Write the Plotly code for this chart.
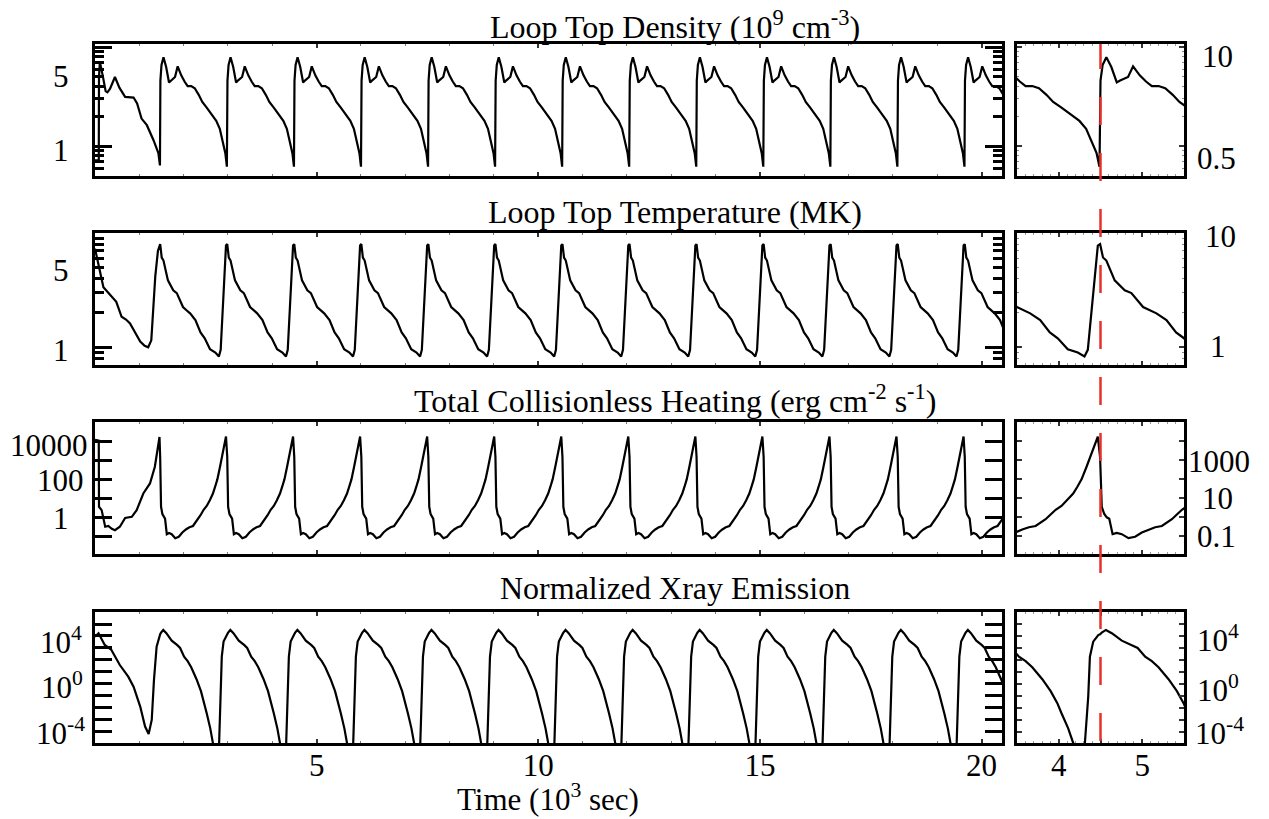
import plotly.graph_objects as go

# ---------------- data (time in 10^3 s) ----------------
# times of the density jumps (start of each heating cycle)
cycle_starts = [1.47, 2.983, 4.495, 6.008, 7.52, 9.033, 10.545, 12.058,
                13.57, 15.083, 16.595, 18.108, 19.62]

# one cycle, offsets after the jump (10^3 s) and values
dens_phase = [0.005, 0.03, 0.075, 0.135, 0.20, 0.24, 0.28, 0.335, 0.395, 0.475, 0.55,
              0.62, 0.70, 0.78, 0.87, 0.95, 1.05, 1.165, 1.265, 1.345, 1.425, 1.47, 1.505]
dens_cycle = [4.6, 6.6, 7.9, 6.3, 4.4, 4.6, 4.8, 5.0, 6.4, 5.2, 4.5,
              4.05, 4.05, 3.85, 3.3, 2.8, 2.45, 2.06, 1.8, 1.5, 1.06, 0.85, 0.62]
dens_init_t = [0.0, 0.085, 0.09, 0.11, 0.18, 0.24, 0.28, 0.34, 0.45, 0.55, 0.68,
               0.87, 0.95, 1.05, 1.17, 1.32, 1.43, 1.465]
dens_init = [0.72, 0.72, 5.0, 7.1, 5.0, 3.6, 3.5, 3.8, 5.0, 3.9, 3.15,
             3.1, 2.7, 1.9, 1.63, 1.15, 0.85, 0.64]

temp_phase = [0.0, 0.035, 0.075, 0.175, 0.295, 0.375, 0.515, 0.60, 0.675, 0.795,
              0.91, 1.005, 1.125, 1.245, 1.325, 1.365, 1.425, 1.485]
temp_cycle = [8.0, 6.1, 5.74, 3.85, 3.15, 2.98, 2.25, 2.1, 1.98, 1.73,
              1.35, 1.2, 0.96, 0.90, 0.83, 0.95, 2.95, 7.77]
temp_init_t = [0.0, 0.08, 0.19, 0.30, 0.38, 0.48, 0.60, 0.70, 0.79, 0.90, 1.02,
               1.12, 1.20, 1.27, 1.31, 1.36, 1.42, 1.46]
temp_init = [7.3, 5.4, 3.36, 3.0, 2.75, 2.5, 1.85, 1.75, 1.62, 1.35, 1.12,
             1.03, 1.0, 1.15, 2.0, 4.2, 7.0, 7.9]

heat_phase = [0.0, 0.02, 0.05, 0.08, 0.11, 0.15, 0.20, 0.26, 0.34, 0.42, 0.50, 0.58,
              0.66, 0.74, 0.79, 0.86, 0.91, 0.98, 1.05, 1.12, 1.19, 1.24, 1.29,
              1.35, 1.40, 1.45, 1.485]
heat_cycle = [1500, 3.6, 1.5, 1.0, 0.85, 0.13, 0.15, 0.13, 0.08, 0.095, 0.16, 0.23,
              0.30, 0.35, 0.5, 0.8, 1.3, 2.5, 4.0, 8.0, 18, 41, 100,
              460, 1800, 9000, 18000]
heat_init_t = [0.0, 0.085, 0.09, 0.15, 0.23, 0.30, 0.38, 0.45, 0.56, 0.68, 0.83,
               0.94, 1.09, 1.24, 1.35, 1.43, 1.455]
heat_init = [12000, 11000, 3.6, 2.4, 0.32, 0.35, 0.25, 0.21, 0.32, 0.92, 1.07,
             2.4, 18, 61, 460, 5200, 17000]

xray_phase = [0.0, 0.02, 0.07, 0.14, 0.26, 0.38, 0.45, 0.54, 0.62, 0.70, 0.82,
              0.92, 1.00, 1.05, 1.13, 1.19, 1.20, 1.32, 1.33, 1.37, 1.39, 1.43, 1.49]
xray_cycle = [1.4e4, 1.9e4, 3.2e4, 1.7e4, 4.1e3, 1.8e3, 1.0e3, 190, 80, 25, 2.5,
              0.25, 0.025, 3.6e-3, 2.0e-4, 1.2e-5, 1e-9, 1e-9, 1.2e-5, 0.087, 190, 3.4e3, 1.2e4]
xray_init_t = [0.0, 0.08, 0.22, 0.37, 0.56, 0.75, 0.87, 1.02, 1.13, 1.21, 1.28,
               1.33, 1.39, 1.45]
xray_init = [8.7e3, 1.7e4, 1.8e3, 680, 38, 4.1, 0.6, 0.013, 2.8e-4, 6.8e-5, 1e-3,
             2.1, 1.3e3, 1.2e4]

titles = ["Loop Top Density (10<sup>9</sup> cm<sup>-3</sup>)",
          "Loop Top Temperature (MK)",
          "Total Collisionless Heating (erg cm<sup>-2</sup> s<sup>-1</sup>)",
          "Normalized Xray Emission"]

main_xticks = [5, 10, 15, 20]
zoom_xticks = [4, 4.5, 5]
zoom_xtext = ["4", "", "5"]

# y tick values per panel (major / minor)
y_major = [[1, 10], [1, 10],
           [0.1, 1, 10, 100, 1000, 1e4, 1e5],
           [1e-4, 1e-3, 1e-2, 1e-1, 1, 10, 100, 1e3, 1e4, 1e5]]
y_minor = [[0.5, 0.6, 0.7, 0.8, 0.9, 2, 3, 4, 5, 6, 7, 8, 9],
           [0.7, 0.8, 0.9, 2, 3, 4, 5, 6, 7, 8, 9],
           [], []]
y_ranges = [[-0.301, 1.032], [-0.155, 1.0], [-1.93, 5.02], [-4.92, 6.0]]

# tick label texts (left of main panels, right of zoom panels)
left_labels = [["5", "1"], ["5", "1"], ["10000", "100", "1"],
               ["10<sup>4</sup>", "10<sup>0</sup>", "10<sup>-4</sup>"]]
right_labels = [["10", "0.5"], ["10", "1"], ["1000", "10", "0.1"],
                ["10<sup>4</sup>", "10<sup>0</sup>", "10<sup>-4</sup>"]]

# ---------------- layout geometry (page pixels) ----------------
PAGE_OFF = 8                      # default body margin of the html page
W, H = 1269 - PAGE_OFF, 819 - PAGE_OFF
rows_px = [(44, 176), (233, 365), (422, 554), (612, 743)]
main_x_px = (95, 1002)
zoom_x_px = (1017, 1184)
left_lab_py = [[76.7, 150], [270, 350], [445, 480, 518.3], [640, 685, 731.7]]
left_lab_px = [[60.5, 61], [60.5, 61], [49, 60, 61], [61, 62, 60]]
right_lab_py = [[56.7, 158], [236.7, 346.7], [461.7, 498.3, 536.7], [638, 688, 731.7]]
right_lab_px = [[1217, 1216], [1220, 1218], [1219, 1217, 1216], [1218, 1218, 1219]]
title_py = [25, 212, 399, 588]
title_px = 675


def xp(px):
    return (px - PAGE_OFF) / W


def yp(py):
    return 1 - (py - PAGE_OFF) / H


def build(init_t, init_v, phase, vals):
    t = list(init_t)
    v = list(init_v)
    for s in cycle_starts:
        t += [s + p for p in phase]
        v += list(vals)
    return t, v


series = [build(dens_init_t, dens_init, dens_phase, dens_cycle),
          build(temp_init_t, temp_init, temp_phase, temp_cycle),
          build(heat_init_t, heat_init, heat_phase, heat_cycle),
          build(xray_init_t, xray_init, xray_phase, xray_cycle)]

FONT = "Liberation Serif"
fig = go.Figure()
layout = dict(width=W, height=H, margin=dict(l=0, r=0, t=0, b=0),
              paper_bgcolor="white", plot_bgcolor="white", showlegend=False,
              font=dict(family=FONT, size=31, color="black"))

annotations = []
for i in range(4):
    top, bot = rows_px[i]
    dom_y = [yp(bot), yp(top)]
    na = 2 * i + 1
    nb = 2 * i + 2
    t, v = series[i]
    for n in (na, nb):
        fig.add_trace(go.Scatter(x=t, y=v, mode="lines",
                                 line=dict(color="black", width=2.2),
                                 xaxis="x" + (str(n) if n > 1 else ""),
                                 yaxis="y" + (str(n) if n > 1 else ""),
                                 hoverinfo="skip"))
    last = (i == 3)
    # main x axis
    layout["xaxis" + (str(na) if na > 1 else "")] = dict(
        domain=[xp(main_x_px[0]), xp(main_x_px[1])], range=[0, 20.46],
        anchor="y" + (str(na) if na > 1 else ""),
        showline=True, linewidth=3, linecolor="black", mirror="allticks",
        ticks="inside", ticklen=4, tickwidth=1.5, tickcolor="#333",
        tickvals=main_xticks, ticktext=[str(x) for x in main_xticks],
        showticklabels=last, tickfont=dict(family=FONT, size=31),
        ticklabelstandoff=-7,
        minor=dict(dtick=1, ticks="inside", ticklen=2, tickwidth=1, tickcolor="#777"),
        showgrid=False, zeroline=False)
    layout["xaxis" + str(nb)] = dict(
        domain=[xp(zoom_x_px[0]), xp(zoom_x_px[1])], range=[3.5, 5.5],
        anchor="y" + str(nb),
        showline=True, linewidth=3, linecolor="black", mirror="allticks",
        ticks="inside", ticklen=4, tickwidth=1.5, tickcolor="#333",
        tickvals=zoom_xticks, ticktext=zoom_xtext,
        showticklabels=last, tickfont=dict(family=FONT, size=31),
        ticklabelstandoff=-7,
        minor=dict(dtick=0.1, ticks="inside", ticklen=2, tickwidth=1, tickcolor="#999"),
        showgrid=False, zeroline=False)
    common_y = dict(domain=dom_y, type="log", range=y_ranges[i],
                    showline=True, linewidth=3, linecolor="black", mirror="allticks",
                    ticks="inside", tickvals=y_major[i], showticklabels=False,
                    showgrid=False, zeroline=False)
    ya = dict(common_y, anchor="x" + (str(na) if na > 1 else ""),
              ticklen=17, tickwidth=2.5, tickcolor="black",
              minor=dict(tickvals=y_minor[i], ticks="inside", ticklen=9,
                         tickwidth=2.5, tickcolor="black"))
    yb = dict(common_y, anchor="x" + str(nb),
              ticklen=5, tickwidth=1.5, tickcolor="#333",
              minor=dict(tickvals=y_minor[i], ticks="inside", ticklen=2,
                         tickwidth=1, tickcolor="#888"))
    layout["yaxis" + (str(na) if na > 1 else "")] = ya
    layout["yaxis" + str(nb)] = yb

    annotations.append(dict(text=titles[i], x=xp(title_px), y=yp(title_py[i]),
                            xref="paper", yref="paper", showarrow=False,
                            xanchor="center", yanchor="middle",
                            font=dict(family=FONT, size=32, color="black")))
    for txt, px, py in zip(left_labels[i], left_lab_px[i], left_lab_py[i]):
        annotations.append(dict(text=txt, x=xp(px), y=yp(py), xref="paper", yref="paper",
                                showarrow=False, xanchor="center", yanchor="middle",
                                font=dict(family=FONT, size=31, color="black")))
    for txt, px, py in zip(right_labels[i], right_lab_px[i], right_lab_py[i]):
        annotations.append(dict(text=txt, x=xp(px), y=yp(py), xref="paper", yref="paper",
                                showarrow=False, xanchor="center", yanchor="middle",
                                font=dict(family=FONT, size=31, color="black")))

annotations.append(dict(text="Time (10<sup>3</sup> sec)", x=xp(548), y=yp(797),
                        xref="paper", yref="paper", showarrow=False,
                        xanchor="center", yanchor="middle",
                        font=dict(family=FONT, size=31, color="black")))
layout["annotations"] = annotations
layout["shapes"] = [dict(type="line", xref="x2", yref="paper", x0=4.5, x1=4.5,
                         y0=yp(741), y1=yp(44),
                         line=dict(color="#e8302a", width=2.5, dash="28px,28px"),
                         layer="above")]
fig.update_layout(**layout)
fig.write_html("out.html")
